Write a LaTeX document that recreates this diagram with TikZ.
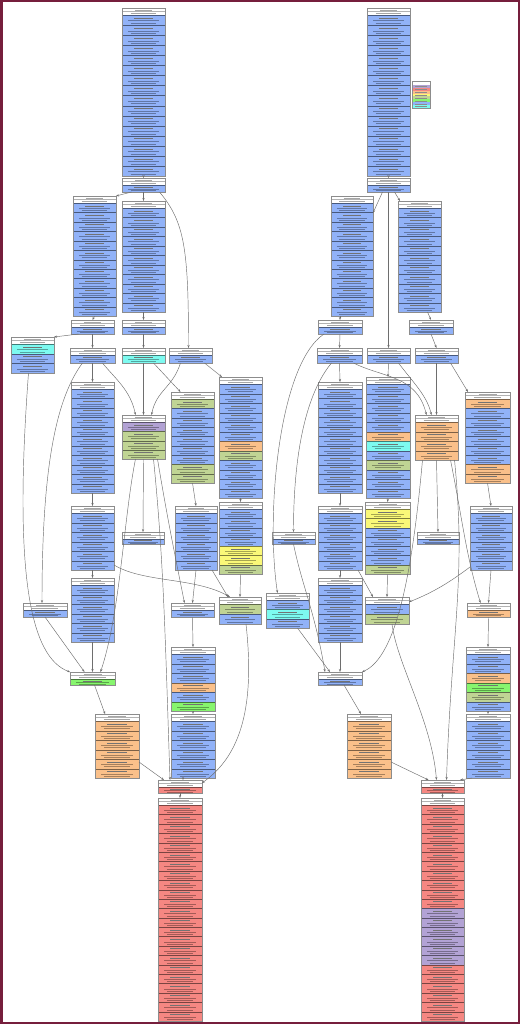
\documentclass[tikz,border=0pt]{standalone}
\usetikzlibrary{arrows.meta,fit}
\definecolor{cb}{RGB}{145,178,248}
\definecolor{cr}{RGB}{245,135,130}
\definecolor{co}{RGB}{250,192,138}
\definecolor{cg}{RGB}{192,212,148}
\definecolor{cG}{RGB}{135,245,110}
\definecolor{cy}{RGB}{250,248,120}
\definecolor{cc}{RGB}{125,250,240}
\definecolor{cp}{RGB}{178,162,212}
\definecolor{framec}{RGB}{118,30,60}
\definecolor{edgec}{RGB}{110,110,110}
\tikzset{edge/.style={draw=edgec, line width=0.45pt, -{Stealth[length=3pt,width=2.2pt]}}}
\newcommand\tbl[6]{%
  \pgfmathsetmacro\tbcx{(#2+#4)/2}%
  \pgfmathsetmacro\tbw{#4-#2}%
  \foreach \cl [count=\i] in {#6} {\xdef\tbn{\i}}%
  \pgfmathsetmacro\tbh{(#5-#3-7)/\tbn}%
  \fill[white] (#2,#3) rectangle (#4,#3+7);
  \draw[black!35, line width=0.45pt] (\tbcx-0.2*\tbw,#3+1.9) -- (\tbcx+0.2*\tbw,#3+1.9);
  \draw[black!30, line width=0.3pt] (#2,#3+3.5) -- (#4,#3+3.5);
  \draw[black!35, line width=0.45pt] (\tbcx-0.3*\tbw,#3+5.3) -- (\tbcx+0.3*\tbw,#3+5.3);
  \foreach \cl [count=\i] in {#6} {
    \pgfmathsetmacro\ya{#3+7+(\i-1)*\tbh}
    \pgfmathsetmacro\yb{\ya+\tbh}
    \fill[\cl] (#2,\ya) rectangle (#4,\yb);
    \draw[\cl!50!black, line width=0.5pt] (#2,\ya+0.25) -- (#4,\ya+0.25);
    \draw[black!55, line width=0.55pt] (\tbcx-0.22*\tbw,\ya+0.3*\tbh) -- (\tbcx+0.22*\tbw,\ya+0.3*\tbh);
    \draw[\cl!45!black, line width=0.35pt, opacity=0.6] (\tbcx-0.36*\tbw,\ya+0.56*\tbh) -- (\tbcx+0.36*\tbw,\ya+0.56*\tbh);
    \draw[\cl!45!black, line width=0.35pt, opacity=0.6] (\tbcx-0.3*\tbw,\ya+0.8*\tbh) -- (\tbcx+0.3*\tbw,\ya+0.8*\tbh);
  }
  \node[fit={(#2,#3) (#4,#5)}, inner sep=0pt, outer sep=0pt, draw=black!45, line width=0.5pt] (#1) {};
}
\begin{document}
\begin{tikzpicture}[x=1pt,y=-1pt]
\useasboundingbox (0,0) rectangle (520,1024);
\fill[white] (0,0) rectangle (520,1024);
% ---------------- left graph ----------------
\tbl{L0}{122}{8}{165}{176}{cb,cb,cb,cb,cb,cb,cb,cb,cb,cb,cb,cb,cb,cb,cb,cb}
\tbl{L1}{122}{178}{165}{192}{cb}
\tbl{L2a}{73}{196}{116}{316}{cb,cb,cb,cb,cb,cb,cb,cb,cb,cb,cb,cb}
\tbl{L2b}{122}{201}{165}{312}{cb,cb,cb,cb,cb,cb,cb,cb,cb,cb,cb}
\tbl{L3a}{71}{320}{114}{334}{cb}
\tbl{L3b}{122}{320}{165}{334}{cb}
\tbl{CyanL}{11}{337}{54}{373}{cc,cb,cb}
\tbl{L4a}{70}{348}{115}{363}{cb}
\tbl{L4b}{122}{348}{165}{363}{cc}
\tbl{L4c}{169}{348}{212}{363}{cb}
\tbl{L5a}{71}{382}{114}{493}{cb,cb,cb,cb,cb,cb,cb,cb,cb,cb,cb}
\tbl{L5b}{122}{415}{165}{459}{cp,cg,cg,cg}
\tbl{L5c}{171}{392}{214}{483}{cg,cb,cb,cb,cb,cb,cb,cg,cg}
\tbl{L5d}{219}{377}{262}{498}{cb,cb,cb,cb,cb,cb,co,cg,cb,cb,cb,cb}
\tbl{L6a}{71}{506}{114}{570}{cb,cb,cb,cb,cb,cb}
\tbl{SmallC}{122}{532}{164}{544}{cb}
\tbl{L6c}{175}{506}{217}{570}{cb,cb,cb,cb,cb,cb}
\tbl{L5d2}{219}{502}{262}{574}{cb,cb,cb,cb,cy,cy,cg}
\tbl{L7a}{71}{578}{114}{642}{cb,cb,cb,cb,cb,cb}
\tbl{SmallL}{23}{603}{67}{617}{cb}
\tbl{N1}{171}{603}{214}{617}{cb}
\tbl{GBL}{219}{597}{261}{624}{cg,cb}
\tbl{GreenN}{70}{672}{115}{685}{cG}
\tbl{N2}{171}{647}{215}{711}{cb,cb,cb,co,cb,cG}
\tbl{OrangeL}{95}{714}{139}{778}{co,co,co,co,co,co}
\tbl{N3}{171}{714}{215}{778}{cb,cb,cb,cb,cb,cb}
\tbl{RedSmallL}{158}{780}{202}{793}{cr}
\tbl{RedBigL}{158}{798}{202}{1021}{cr,cr,cr,cr,cr,cr,cr,cr,cr,cr,cr,cr,cr,cr,cr,cr,cr,cr,cr,cr,cr,cr,cr}
% ---------------- right graph ----------------
\tbl{R0}{367}{8}{410}{176}{cb,cb,cb,cb,cb,cb,cb,cb,cb,cb,cb,cb,cb,cb,cb,cb}
\tbl{R1}{367}{178}{410}{192}{cb}
\tbl{R2a}{331}{196}{373}{316}{cb,cb,cb,cb,cb,cb,cb,cb,cb,cb,cb,cb}
\tbl{R2b}{398}{201}{441}{312}{cb,cb,cb,cb,cb,cb,cb,cb,cb,cb,cb}
\tbl{R3a}{318}{320}{362}{334}{cb}
\tbl{R3b}{409}{320}{453}{334}{cb}
\tbl{R4a}{317}{348}{362}{363}{cb}
\tbl{R4b}{367}{348}{410}{363}{cb}
\tbl{R4c}{415}{348}{458}{363}{cb}
\tbl{R5a}{318}{382}{362}{493}{cb,cb,cb,cb,cb,cb,cb,cb,cb,cb,cb}
\tbl{R5b}{366}{377}{410}{498}{cb,cb,cb,cb,cb,co,cc,cb,cg,cb,cb,cb}
\tbl{R5c}{415}{415}{458}{460}{co,co,co,co}
\tbl{R5d}{465}{392}{510}{483}{co,cb,cb,cb,cb,cb,cb,co,co}
\tbl{R6a}{318}{506}{362}{570}{cb,cb,cb,cb,cb,cb}
\tbl{R5b2}{365}{502}{410}{574}{cy,cy,cb,cb,cb,cb,cg}
\tbl{SmallR1}{272}{532}{315}{544}{cb}
\tbl{SmallR2}{417}{532}{459}{544}{cb}
\tbl{R6d}{470}{506}{512}{570}{cb,cb,cb,cb,cb,cb}
\tbl{CyanR}{266}{593}{309}{628}{cb,cc,cb}
\tbl{R7a}{318}{578}{362}{642}{cb,cb,cb,cb,cb,cb}
\tbl{GBR}{365}{597}{409}{624}{cb,cg}
\tbl{OrangeSmallR}{467}{603}{510}{617}{co}
\tbl{BlueR}{318}{672}{362}{685}{cb}
\tbl{R8}{466}{647}{510}{711}{cb,cb,co,cG,cg,cb}
\tbl{OrangeR}{347}{714}{391}{778}{co,co,co,co,co,co}
\tbl{R9}{466}{714}{510}{778}{cb,cb,cb,cb,cb,cb}
\tbl{RedSmallR}{421}{780}{464}{793}{cr}
\tbl{RedBigR}{421}{798}{464}{1021}{cr,cr,cr,cr,cr,cr,cr,cr,cr,cr,cr,cp,cp,cp,cp,cp,cp,cr,cr,cr,cr,cr,cr}
% ---------------- legend ----------------
\fill[white] (412,81) rectangle (430,85);
\foreach \cl [count=\i] in {cp,cr,co,cy,cg,cG,cb,cc} {
  \fill[\cl] (412,85+2.875*\i-2.875) rectangle (430,85+2.875*\i);
  \draw[black!45, line width=0.3pt] (415,85+2.875*\i-1.4) -- (427,85+2.875*\i-1.4);
}
\node[fit={(412,81) (430,108)}, inner sep=0pt, draw=black!45, line width=0.5pt] (legend) {};
% ---------------- left edges ----------------
\draw[edge] (L0.south) -- (L1.north);
\draw[edge] ([xshift=-12pt]L1.south) -- (L2a.north east);
\draw[edge] (L1.south) -- (L2b.north);
\draw[edge] ([xshift=16pt]L1.south) .. controls +(25,30) and +(0,-100) .. ([xshift=-2pt]L4c.north);
\draw[edge] (L2a.south) -- (L3a.north);
\draw[edge] (L2b.south) -- (L3b.north);
\draw[edge] ([xshift=-14pt]L3a.south) -- (CyanL.north east);
\draw[edge] (L3a.south) -- (L4a.north);
\draw[edge] (L3b.south) -- (L4b.north);
\draw[edge] (L4a.south) -- (L5a.north);
\draw[edge] ([xshift=10pt]L4a.south) .. controls +(12,15) and +(-5,-25) .. ([xshift=-8pt]L5b.north);
\draw[edge] ([xshift=-10pt]L4a.south) .. controls +(-30,40) and +(0,-120) .. ([xshift=-3pt]SmallL.north);
\draw[edge] ([xshift=-4pt]CyanL.south) .. controls +(-15,200) and +(-40,-15) .. (GreenN.north west);
\draw[edge] (L7a.south) -- (GreenN.north);
\draw[edge] (SmallL.south) -- ([xshift=-8pt]GreenN.north);
\draw[edge] ([xshift=-8pt]L5b.south) .. controls +(-12,60) and +(20,-60) .. ([xshift=8pt]GreenN.north);
\draw[edge] (L4b.south) -- (L5b.north);
\draw[edge] ([xshift=10pt]L4b.south) -- ([xshift=-12pt]L5c.north);
\draw[edge] ([xshift=-10pt]L4c.south) .. controls +(-8,25) and +(5,-25) .. ([xshift=8pt]L5b.north);
\draw[edge] ([xshift=14pt]L4c.south) -- ([xshift=3pt]L5d.north west);
\draw[edge] (L5b.south) -- (SmallC.north);
\draw[edge] ([xshift=10pt]L5b.south) .. controls +(10,100) and +(-5,-150) .. ([xshift=-10pt]RedSmallL.north);
\draw[edge] ([xshift=14pt]L5b.south) .. controls +(10,60) and +(-10,-50) .. ([xshift=-8pt]N1.north);
\draw[edge] (L5a.south) -- (L6a.north);
\draw[edge] (L6a.south) -- (L7a.north);
\draw[edge] (L5c.south) -- (L6c.north);
\draw[edge] (L6c.south) -- (N1.north);
\draw[edge] ([xshift=16pt]L6c.south) -- ([xshift=-12pt]GBL.north);
\draw[edge] ([yshift=5pt]L6a.south east) .. controls +(30,18) and +(-35,-20) .. ([xshift=-10pt]GBL.north);
\draw[edge] (L5d.south) -- (L5d2.north);
\draw[edge] (L5d2.south) -- (GBL.north);
\draw[edge] ([xshift=6pt]GBL.south) .. controls +(10,90) and +(35,-25) .. ([yshift=-3pt]RedSmallL.north east);
\draw[edge] ([xshift=2pt]GreenN.south) -- ([xshift=-12pt]OrangeL.north);
\draw[edge] (N1.south) -- (N2.north);
\draw[edge] (N2.south) -- (N3.north);
\draw[edge] ([yshift=-16pt]OrangeL.east) -- ([xshift=-16pt]RedSmallL.north);
\draw[edge] ([xshift=-10pt]N3.south) -- ([xshift=3pt]RedSmallL.north);
\draw[edge] (RedSmallL.south) -- (RedBigL.north);
% ---------------- right edges ----------------
\draw[edge] (R0.south) -- (R1.north);
\draw[edge] ([xshift=-6pt]R1.south) -- ([yshift=-17pt]R2a.north east);
\draw[edge] ([xshift=6pt]R1.south) -- ([xshift=2pt]R2b.north west);
\draw[edge] (R1.south) -- (R4b.north);
\draw[edge] ([xshift=-12pt]R2a.south) -- (R3a.north);
\draw[edge] ([xshift=8pt]R2b.south) -- (R3b.north);
\draw[edge] (R3a.south) -- (R4a.north);
\draw[edge] ([xshift=-16pt]R3a.south) .. controls +(-45,30) and +(-12,-80) .. ([xshift=-10pt]CyanR.north);
\draw[edge] (R3b.south) -- (R4c.north);
\draw[edge] (R4a.south) -- (R5a.north);
\draw[edge] ([xshift=-8pt]R4a.south) .. controls +(-25,30) and +(0,-80) .. (SmallR1.north);
\draw[edge] ([xshift=14pt]R4a.south) .. controls +(30,15) and +(-10,-40) .. ([xshift=-10pt]R5c.north);
\draw[edge] (R4b.south) -- (R5b.north);
\draw[edge] ([xshift=10pt]R4b.south) .. controls +(15,20) and +(-5,-20) .. ([xshift=-5pt]R5c.north);
\draw[edge] (R4c.south) -- (R5c.north);
\draw[edge] ([xshift=14pt]R4c.south) -- ([xshift=3pt]R5d.north west);
\draw[edge] (R5a.south) -- (R6a.north);
\draw[edge] (R5b.south) -- (R5b2.north);
\draw[edge] (R5b2.south) -- (GBR.north);
\draw[edge] (R6a.south) -- (R7a.north);
\draw[edge] ([xshift=18pt]R6a.south) -- ([xshift=-14pt]GBR.north);
\draw[edge] (R5c.south) -- (SmallR2.north);
\draw[edge] ([xshift=14pt]R5c.south) .. controls +(12,60) and +(-15,-50) .. ([xshift=-8pt]OrangeSmallR.north);
\draw[edge] ([xshift=18pt]R5c.south) .. controls +(12,120) and +(5,-150) .. ([xshift=4pt]RedSmallR.north);
\draw[edge] ([xshift=-14pt]R5c.south) .. controls +(-10,110) and +(35,-15) .. (BlueR.north east);
\draw[edge] (R5d.south) -- (R6d.north);
\draw[edge] (R6d.south) -- (OrangeSmallR.north);
\draw[edge] ([yshift=3pt]R6d.south west) .. controls +(-20,15) and +(25,-10) .. ([yshift=-5pt]GBR.north east);
\draw[edge] (SmallR1.south) .. controls +(8,40) and +(-10,-60) .. ([xshift=-15pt]BlueR.north);
\draw[edge] ([xshift=10pt]CyanR.south) -- ([xshift=-10pt]BlueR.north);
\draw[edge] (R7a.south) -- (BlueR.north);
\draw[edge] ([xshift=5pt]GBR.south) .. controls +(5,40) and +(-5,-60) .. ([xshift=-6pt]RedSmallR.north);
\draw[edge] ([xshift=4pt]BlueR.south) -- ([xshift=-8pt]OrangeR.north);
\draw[edge] (OrangeSmallR.south) -- (R8.north);
\draw[edge] (R8.south) -- (R9.north);
\draw[edge] ([yshift=-16pt]OrangeR.east) -- ([xshift=-14pt]RedSmallR.north);
\draw[edge] ([xshift=6pt]R9.south west) -- ([xshift=-4pt]RedSmallR.north east);
\draw[edge] (RedSmallR.south) -- (RedBigR.north);
% frame
\draw[framec, line width=2.5pt] (1.25,1.25) rectangle (518.75,1022.75);
\end{tikzpicture}
\end{document}
